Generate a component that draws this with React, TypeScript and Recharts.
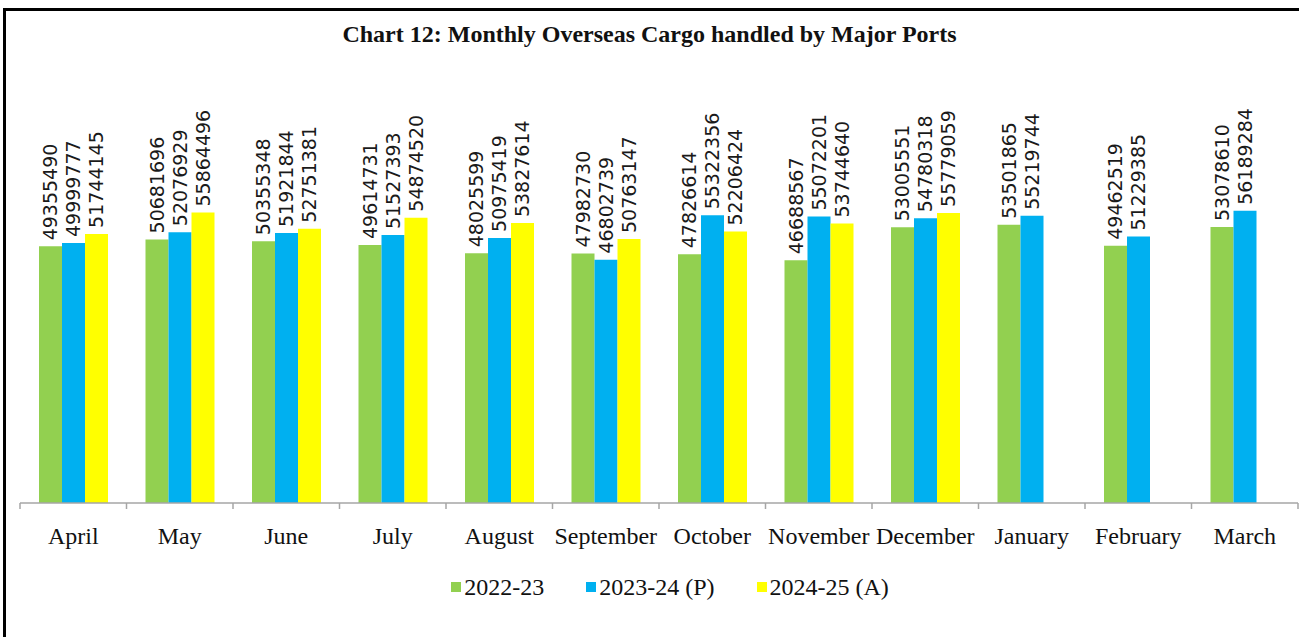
import React from 'react';
import { BarChart, Bar, XAxis, YAxis, LabelList } from 'recharts';

const months = ['April', 'May', 'June', 'July', 'August', 'September', 'October', 'November', 'December', 'January', 'February', 'March'];
const fy2223 = [49355490, 50681696, 50355348, 49614731, 48025599, 47982730, 47826614, 46688567, 53005551, 53501865, 49462519, 53078610];
const fy2324 = [49999777, 52076929, 51921844, 51527393, 50975419, 46802739, 55322356, 55072201, 54780318, 55219744, 51229385, 56189284];
const fy2425 = [51744145, 55864496, 52751381, 54874520, 53827614, 50763147, 52206424, 53744640, 55779059, null, null, null];

const seriesNames = ['2022-23', '2023-24 (P)', '2024-25 (A)'];
const colors = ['#92D050', '#00B0F0', '#FFFF00'];

const data = months.map((m, i) => ({ month: m, a: fy2223[i], b: fy2324[i], c: fy2425[i] }));

const W = 1299;
const H = 637;
const AXIS_Y = 503;
const X_AXIS_H = 30;
const M = { top: 87, right: 1, bottom: H - AXIS_Y - X_AXIS_H, left: 20 };
const BAND = (W - M.left - M.right) / months.length;
const AXIS = '#A6A6A6';
const SERIF = "'Liberation Serif', 'Times New Roman', serif";

const ValueLabel = (props: any) => {
  const { x, y, width, value } = props;
  if (value === null || value === undefined) return null;
  const cx = x + width / 2;
  const ty = y - 6;
  return (
    <text
      x={cx}
      y={ty}
      transform={`rotate(-90, ${cx}, ${ty})`}
      textAnchor="start"
      dominantBaseline="central"
      fontFamily="'DejaVu Sans', Verdana, sans-serif"
      fontSize={19}
      fill="#1a1a1a"
    >
      {value}
    </text>
  );
};

const MonthTick = (props: any) => {
  const { x, payload, index } = props;
  return (
    <g>
      <line x1={x - BAND / 2} x2={x - BAND / 2} y1={AXIS_Y} y2={AXIS_Y + 6} stroke={AXIS} strokeWidth={1.5} />
      {index === months.length - 1 && (
        <line x1={x + BAND / 2} x2={x + BAND / 2} y1={AXIS_Y} y2={AXIS_Y + 6} stroke={AXIS} strokeWidth={1.5} />
      )}
      <text x={x} y={AXIS_Y + 41} textAnchor="middle" fontFamily={SERIF} fontSize={24} fill="#111">
        {payload.value}
      </text>
    </g>
  );
};

export default function App() {
  return (
    <div style={{ position: 'absolute', left: 0, top: 0, width: W, height: H, background: '#fff', overflow: 'hidden' }}>
      <div style={{ position: 'absolute', left: 3, top: 8, width: 3, height: H - 8, background: '#000' }} />
      <div style={{ position: 'absolute', left: 3, top: 8, width: W - 3, height: 3, background: '#000' }} />
      <div
        style={{
          position: 'absolute',
          left: 0,
          width: W,
          top: 20,
          textAlign: 'center',
          fontFamily: SERIF,
          fontWeight: 'bold',
          fontSize: 24,
          lineHeight: '28px',
          color: '#111',
        }}
      >
        Chart 12: Monthly Overseas Cargo handled by Major Ports
      </div>
      <BarChart width={W} height={H} data={data} margin={M} barGap={0} barSize={23} style={{ position: 'absolute', left: 0, top: 0 }}>
        <XAxis dataKey="month" height={X_AXIS_H} axisLine={{ stroke: AXIS, strokeWidth: 1.5 }} tickLine={false} tick={<MonthTick />} interval={0} />
        <YAxis hide domain={[0, 80000000]} />
        <Bar dataKey="a" name={seriesNames[0]} fill={colors[0]} isAnimationActive={false}>
          <LabelList dataKey="a" content={<ValueLabel />} />
        </Bar>
        <Bar dataKey="b" name={seriesNames[1]} fill={colors[1]} isAnimationActive={false}>
          <LabelList dataKey="b" content={<ValueLabel />} />
        </Bar>
        <Bar dataKey="c" name={seriesNames[2]} fill={colors[2]} isAnimationActive={false}>
          <LabelList dataKey="c" content={<ValueLabel />} />
        </Bar>
      </BarChart>
      <div
        style={{
          position: 'absolute',
          top: 573,
          left: 20,
          width: 1300,
          display: 'flex',
          justifyContent: 'center',
          gap: 42,
          fontFamily: SERIF,
          fontSize: 24,
          lineHeight: '28px',
          color: '#111',
        }}
      >
        {seriesNames.map((n, i) => (
          <div key={n} style={{ display: 'flex', alignItems: 'center' }}>
            <span style={{ display: 'inline-block', width: 10, height: 10, background: colors[i], marginRight: 3 }} />
            <span>{n}</span>
          </div>
        ))}
      </div>
    </div>
  );
}
